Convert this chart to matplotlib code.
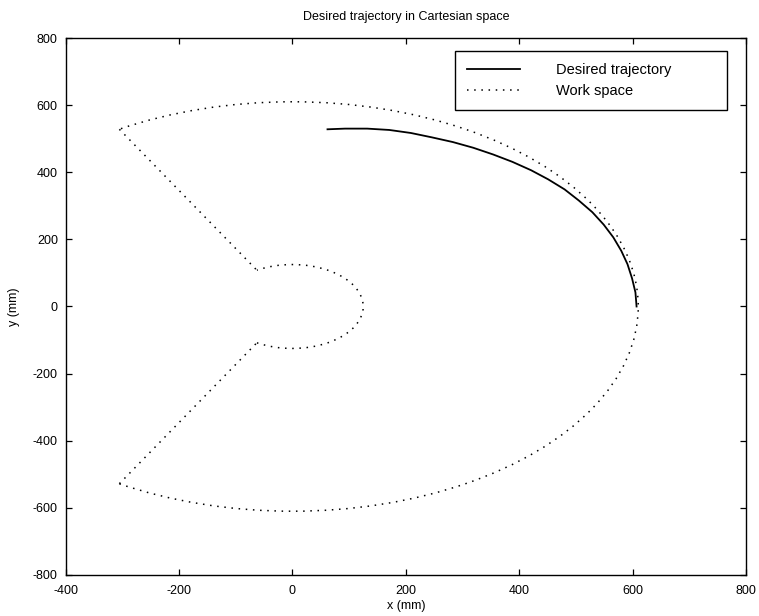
import matplotlib
matplotlib.use("Agg")
import matplotlib.pyplot as plt
from matplotlib.patches import Arc
from matplotlib.lines import Line2D

plt.rcParams["font.family"] = ["Liberation Sans", "DejaVu Sans"]
plt.rcParams["axes.unicode_minus"] = False

# Desired end-effector path (mm)
traj_x = [62, 93, 132, 171, 209, 246, 283, 319, 354, 388, 421, 451, 480, 505,
          529, 549, 566, 580, 591, 599, 605, 607]
traj_y = [528, 530, 530, 526, 517, 504, 490, 473, 453, 431, 406, 379, 349, 316,
          281, 244, 206, 166, 126, 84, 42, 0]

# Reachable work space of the two-link arm
outer_radius = 610
inner_radius = 125
joint_limit_deg = 120
# straight boundaries joining the inner and outer arcs at the joint limit
side_x = [[-305, -62.5], [-305, -62.5]]
side_y = [[528, 108], [-528, -108]]

x_ticks = [-400, -200, 0, 200, 400, 600, 800]
y_ticks = [-800, -600, -400, -200, 0, 200, 400, 600, 800]

fig = plt.figure(figsize=(7.59, 6.16), dpi=100)
ax = fig.add_axes([0.0863, 0.0666, 0.8966, 0.8717])

dot_style = (0, (1, 3.7))
ws_kw = dict(color="black", lw=1.1, linestyle=dot_style)

# solid desired trajectory
ax.plot(traj_x, traj_y, color="black", lw=1.3, solid_joinstyle="round")

for r in (outer_radius, inner_radius):
    ax.add_patch(Arc((0, 0), 2 * r, 2 * r, theta1=-joint_limit_deg,
                     theta2=joint_limit_deg, **ws_kw))
for sx, sy in zip(side_x, side_y):
    ax.plot(sx, sy, **ws_kw)

ax.set_xlim(x_ticks[0], x_ticks[-1])
ax.set_ylim(y_ticks[0], y_ticks[-1])
ax.set_xticks(x_ticks)
ax.set_yticks(y_ticks)
ax.tick_params(direction="in", top=True, right=True, length=4.5, width=0.9,
               labelsize=9)
ax.tick_params(axis="x", pad=7.5)
ax.tick_params(axis="y", pad=5.5)
for s in ax.spines.values():
    s.set_linewidth(1.0)

ax.set_title("Desired trajectory in Cartesian space", fontsize=9, pad=13)
ax.set_xlabel("x (mm)", fontsize=9, labelpad=2)
ax.set_ylabel("y (mm)", fontsize=9, labelpad=9)

handles = [Line2D([], [], color="black", lw=1.3),
           Line2D([], [], color="black", lw=1.1, linestyle=dot_style)]
leg = ax.legend(handles, ["Desired trajectory", "Work space"],
                loc="upper left", bbox_to_anchor=(0.5724, 0.864, 0.3997, 0.1118),
                mode="expand", borderaxespad=0, fontsize=10.5,
                handlelength=3.6, handletextpad=2.5, borderpad=0.85,
                labelspacing=0.45, fancybox=False, framealpha=1,
                edgecolor="black")
leg.get_frame().set_linewidth(1.0)

fig.savefig("out.png", dpi=100)
